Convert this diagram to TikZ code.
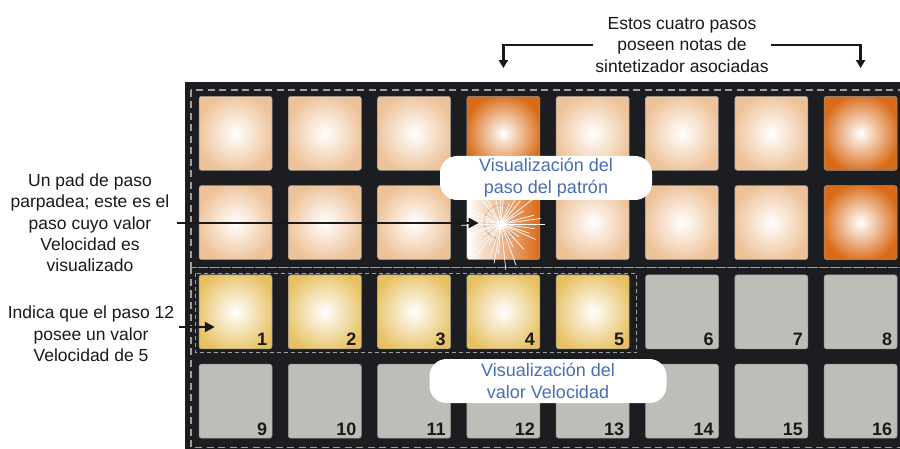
\documentclass[tikz,border=0pt]{standalone}
\usepackage{fontspec}
\setmainfont{Liberation Sans}
\usetikzlibrary{arrows.meta}

\definecolor{panel}{RGB}{28,29,33}
\definecolor{peach}{RGB}{238,194,152}
\definecolor{padorange}{RGB}{217,106,22}
\definecolor{gold}{RGB}{231,192,96}
\definecolor{padgray}{RGB}{190,190,185}
\definecolor{bluetxt}{RGB}{72,110,184}
\definecolor{ink}{RGB}{25,25,25}
\definecolor{dashgray}{RGB}{160,160,160}

% glowing pads: white centre fading out
\pgfdeclareradialshading{peachglow}{\pgfpoint{0bp}{0bp}}{color(0bp)=(white); color(27bp)=(peach); color(50bp)=(peach)}
\pgfdeclareradialshading{orangeglow}{\pgfpoint{0bp}{0bp}}{color(0bp)=(white); color(27bp)=(padorange); color(50bp)=(padorange)}
\pgfdeclareradialshading{goldglow}{\pgfpoint{0bp}{0bp}}{color(0bp)=(white); color(29bp)=(gold); color(50bp)=(gold)}

\begin{document}
\begin{tikzpicture}[x=1pt,y=-1pt,
  pad/.style={rectangle,minimum width=73pt,minimum height=74pt,rounded corners=2.5pt,draw=black!40,line width=0.5pt},
  goldpad/.style={shade,shading=goldglow},
  graypad/.style={fill=padgray},
  flashpad/.style={left color=white,middle color=white!55!padorange,right color=padorange},
  num/.style={font=\bfseries\fontsize{18}{18}\selectfont,text=ink,inner xsep=5pt,inner ysep=3pt,anchor=south east},
  note/.style={align=center,font=\fontsize{17.5}{21.3}\selectfont,text=ink,inner sep=2pt},
  bubble/.style={fill=white,rounded corners=17pt,align=center,text=bluetxt,font=\fontsize{18}{22}\selectfont,minimum height=44pt,inner sep=0pt},
  arrow/.style={-{Triangle[length=10pt,width=10pt]},line width=2.5pt,ink},
  groupline/.style={dashgray,line width=1.4pt,dash pattern=on 7pt off 4.5pt}]
\useasboundingbox (0,0) rectangle (900,449);
\clip (0,0) rectangle (900,449);

% Panel and groups
\fill[panel] (185,82) rectangle (910,460);
\draw[groupline] (191,90) rectangle (905,267.5);
\draw[groupline] (191,267.5) rectangle (905,447.5);
\draw[groupline,line width=0.9pt,dash pattern=on 4pt off 3pt] (195,273) rectangle (636.5,352.5);

% Pattern steps
\foreach \n/\sh in {1/peachglow,2/peachglow,3/peachglow,4/orangeglow,5/peachglow,6/peachglow,7/peachglow,8/orangeglow,
                    9/peachglow,10/peachglow,11/peachglow,13/peachglow,14/peachglow,15/peachglow,16/orangeglow}{
  \pgfmathtruncatemacro\c{mod(\n-1,8)}
  \pgfmathtruncatemacro\r{div(\n-1,8)}
  \node[pad,shade,shading=\sh] (s\n) at ({235.5+89.3*\c},{133.3+89.3*\r}) {};
}
\node[pad,flashpad] (s12) at ({235.5+89.3*3},{133.3+89.3}) {};

% Velocity pads
\foreach \n in {1,...,16}{
  \pgfmathtruncatemacro\c{mod(\n-1,8)}
  \pgfmathtruncatemacro\r{div(\n-1,8)+2}
  \ifnum\n<6 \def\look{goldpad}\else\def\look{graypad}\fi
  \node[pad,\look] (v\n) at ({235.5+89.3*\c},{133.3+89.3*\r}) {};
  \node[num] at (v\n.south east) {\n};
}

% Flashing step
\coordinate (burst) at (501,224);
\draw[gray!80,line width=0.5pt] (501,222) circle (17pt);
\foreach \a/\l in {0/44,8/34,18/30,24/38,35/22,48/34,62/26,70/44,84/46,95/30,100/40,108/36,120/24,128/40,
                   135/32,150/22,160/36,165/28,178/40,190/24,198/34,205/30,220/20,232/38,240/34,258/26,268/40,275/36,292/22,300/38,310/30,322/42,330/26,345/34,352/40}
  \draw[white,line width=0.7pt] (burst) -- ++(\a:\l);
\fill[white] (burst) circle (3.5pt);

% Callouts
\node[bubble,minimum width=212pt] (stepbubble) at (546,178) {Visualización del\\paso del patrón};
\node[bubble,minimum width=237pt] (velbubble) at (548,381) {Visualización del\\valor Velocidad};

% Notes
\node[note] (synthnote) at (682,45) {Estos cuatro pasos\\poseen notas de\\sintetizador asociadas};
\draw[arrow,-{Triangle[length=8pt,width=9pt]}] (synthnote.west) -| ([yshift=28pt]s4.north);
\draw[arrow,-{Triangle[length=8pt,width=9pt]}] (synthnote.east) -| ([yshift=28pt]s8.north);

\node[note] (flashnote) at (90,223) {Un pad de paso\\parpadea; este es el\\paso cuyo valor\\Velocidad es\\visualizado};
\draw[arrow] ([xshift=6pt]flashnote.east) -- ([xshift=12pt]flashnote.east -| s12.west);

\node[note] (velnote) at (91,334) {Indica que el paso 12\\posee un valor\\Velocidad de 5};
\coordinate (velstart) at ([xshift=3pt,yshift=7pt]velnote.east);
\draw[arrow] (velstart) -- ([xshift=16pt]velstart -| v1.west);
\end{tikzpicture}
\end{document}
